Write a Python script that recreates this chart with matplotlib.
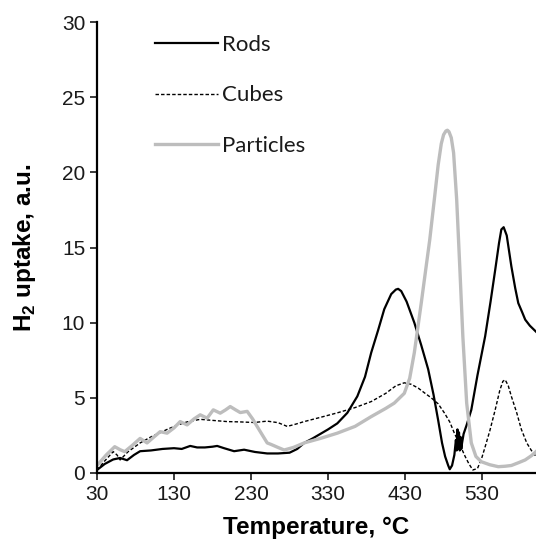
import numpy as np
import matplotlib
matplotlib.use("Agg")
import matplotlib.pyplot as plt

# temperature (C) and H2 uptake
rods_t = [30, 40, 51, 60, 69, 78, 86, 100, 115, 130, 140, 151, 160, 170, 180, 186, 195, 208, 221, 235,
          251, 265, 280, 290, 299, 310, 320, 330, 342, 355, 368, 378, 386, 395, 403, 412, 418, 421, 425,
          432, 442, 451, 460, 467, 473, 478, 482, 486, 488, 491, 494, 496, 497, 498, 499, 500, 501, 502,
          503, 504, 506, 510, 516, 524, 534, 541, 547, 552, 555, 558, 562, 568, 573, 577, 582, 586, 592, 600]
rods_y = [0.2, 0.6, 0.9, 1.0, 0.85, 1.2, 1.45, 1.5, 1.6, 1.65, 1.6, 1.8, 1.7, 1.7, 1.75, 1.8, 1.65, 1.45, 1.55, 1.4,
          1.3, 1.3, 1.35, 1.6, 2.0, 2.3, 2.6, 2.9, 3.3, 4.0, 5.1, 6.4, 8.0, 9.5, 10.9, 11.9, 12.2, 12.25, 12.1,
          11.4, 10.0, 8.5, 6.9, 5.2, 3.5, 2.0, 1.1, 0.5, 0.25, 0.5, 1.2, 2.2, 1.5, 2.9, 1.6, 2.7, 1.5, 2.4,
          1.6, 2.0, 2.6, 3.2, 4.2, 6.5, 9.1, 11.4, 13.5, 15.3, 16.2, 16.35, 15.8, 13.75, 12.3, 11.3, 10.7, 10.2, 9.8, 9.4]

cubes_t = [30, 40, 51, 56, 60, 70, 86, 100, 121, 135, 147, 164, 180, 199, 215, 234, 251, 265, 277, 288,
           299, 320, 342, 365, 386, 405, 418, 429, 438, 447, 456, 464, 473, 481, 488, 494, 501, 508, 513,
           518, 524, 529, 534, 540, 547, 553, 557, 560, 564, 568, 575, 581, 588, 594, 600]
cubes_y = [0.2, 0.8, 1.42, 1.2, 0.87, 1.4, 2.0, 2.4, 2.9, 3.2, 3.4, 3.57, 3.5, 3.42, 3.4, 3.36, 3.45, 3.35, 3.1, 3.25,
           3.42, 3.7, 4.0, 4.35, 4.75, 5.3, 5.8, 6.0, 5.9, 5.65, 5.3, 5.0, 4.6, 4.0, 3.4, 2.65, 1.9, 1.1, 0.6,
           0.2, 0.3, 0.9, 1.75, 2.8, 4.2, 5.5, 6.1, 6.2, 5.8, 5.1, 4.0, 2.9, 2.0, 1.5, 1.1]

part_t = [30, 42, 53, 60, 66, 75, 86, 95, 104, 112, 121, 130, 138, 147, 156, 164, 173, 181, 190, 197,
          203, 210, 216, 225, 232, 238, 245, 251, 256, 265, 273, 285, 299, 320, 342, 365, 386, 405, 416,
          429, 436, 442, 451, 457, 462, 468, 473, 477, 480, 483, 485, 487, 490, 493, 497, 501, 505, 510, 516, 522,
          529, 540, 551, 560, 568, 578, 586, 594, 600]
part_y = [0.5, 1.2, 1.75, 1.55, 1.42, 1.8, 2.3, 2.0, 2.4, 2.75, 2.65, 3.0, 3.42, 3.2, 3.6, 3.87, 3.65, 4.2, 3.98, 4.2,
          4.42, 4.2, 4.02, 4.1, 3.6, 3.09, 2.5, 2.0, 1.9, 1.7, 1.53, 1.7, 2.0, 2.3, 2.65, 3.1, 3.75, 4.3, 4.65,
          5.3, 6.3, 8.0, 11.3, 13.6, 15.5, 18.2, 20.5, 21.9, 22.5, 22.75, 22.8, 22.7, 22.3, 21.3, 18.2, 13.75, 9.1, 4.65, 2.0, 1.1,
          0.75, 0.55, 0.42, 0.45, 0.5, 0.7, 0.87, 1.15, 1.42]

x_ticks = [30, 130, 230, 330, 430, 530]
y_ticks = [0, 5, 10, 15, 20, 25, 30]

plt.rcParams['font.family'] = ['Liberation Sans', 'DejaVu Sans']
plt.rcParams['mathtext.fontset'] = 'custom'
plt.rcParams['mathtext.rm'] = 'Liberation Sans:bold'

fig = plt.figure(figsize=(5.36, 5.41), dpi=100)
ax = fig.add_axes([97 / 536, 1 - 473 / 541, 1 - 97 / 536, (473 - 22) / 541])

ax.plot(rods_t, rods_y, color='black', lw=1.6, label='Rods')
ax.plot(cubes_t, cubes_y, color='black', lw=1.0, ls=(0, (2.5, 1.5)), label='Cubes')
ax.plot(part_t, part_y, color='#bdbdbd', lw=2.4, label='Particles')

ax.set_xlim(30, 600)
ax.set_ylim(0, 30)
ax.set_xticks(x_ticks)
ax.set_yticks(y_ticks)
ax.tick_params(direction='out', length=5, width=1.2, labelsize=15, colors='#1a1a1a')
for s in ['top', 'right']:
    ax.spines[s].set_visible(False)
for s in ['left', 'bottom']:
    ax.spines[s].set_linewidth(1.6)
ax.spines['bottom'].set_zorder(5)

ax.set_xlabel('Temperature, °C', fontsize=17.5, fontweight='bold', labelpad=9)
ax.set_ylabel(r'H$_\mathregular{2}$ uptake, a.u.', fontsize=17.5, fontweight='bold', labelpad=17)

leg = ax.legend(loc='upper left', bbox_to_anchor=(0.086, 1.016), frameon=False,
                handlelength=2.85, handletextpad=0.18, labelspacing=1.38,
                prop={'family': 'Lato', 'size': 16})
for t in leg.get_texts():
    t.set_color('#1a1a1a')

fig.savefig('out.png', dpi=100)
